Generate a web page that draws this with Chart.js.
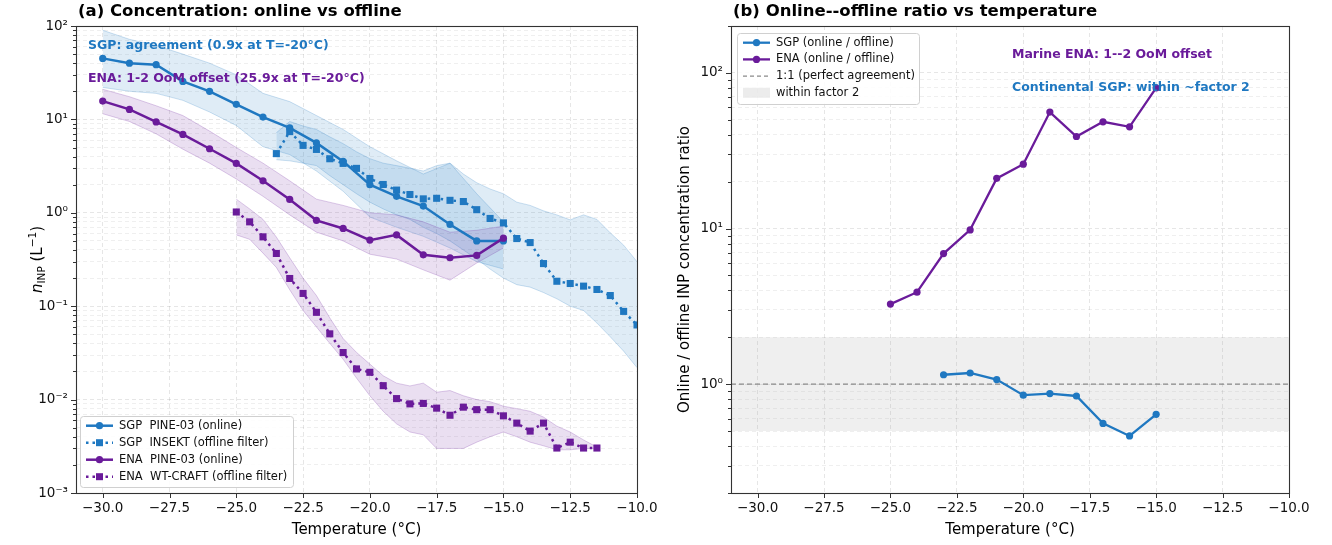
<!DOCTYPE html>
<html>
<head>
<meta charset="utf-8">
<script src="https://cdn.jsdelivr.net/npm/chart.js@4.4.1/dist/chart.umd.min.js"></script>
<style>
  html, body { margin: 0; padding: 0; background: #fff; }
  #wrap { position: relative; width: 1332px; height: 545px; }
  canvas { position: absolute; top: 0; }
  #chartA { left: 0; }
  #chartB { left: 660px; }
</style>
</head>
<body>
<div id="wrap">
  <canvas id="chartA" width="660" height="545" style="width:660px;height:545px"></canvas>
  <canvas id="chartB" width="672" height="545" style="width:672px;height:545px"></canvas>
</div>
<script>
// ---- data ----
const tempOnline = [-30, -29, -28, -27, -26, -25, -24, -23, -22, -21, -20, -19, -18, -17, -16, -15];
const sgpOnline   = [45, 40, 38.5, 25.5, 20, 14.5, 10.6, 8.1, 5.6, 3.55, 2.0, 1.5, 1.18, 0.75, 0.5, 0.5];
const sgpOnlineHi = [90, 72, 62, 50, 40, 30, 19, 15.5, 11, 7.8, 5.1, 3.6, 2.6, 3.4, 1.6, 0.8];
const sgpOnlineLo = [22, 20, 19, 16, 12, 8.6, 5.1, 4.2, 2.8, 1.7, 0.9, 0.7, 0.56, 0.42, 0.3, 0.25];
const enaOnline   = [15.7, 12.8, 9.4, 6.9, 4.85, 3.38, 2.2, 1.39, 0.83, 0.68, 0.51, 0.58, 0.355, 0.33, 0.35, 0.535];
const enaOnlineHi = [21, 17.5, 14, 11, 7.5, 5, 3.4, 2.2, 1.4, 1.2, 1.0, 0.95, 0.8, 0.62, 0.65, 0.72];
const enaOnlineLo = [11.5, 9.5, 7, 4.8, 3.4, 2.3, 1.5, 0.95, 0.62, 0.5, 0.36, 0.32, 0.245, 0.19, 0.29, 0.42];

const tempSgpOffline = [-23.5, -23, -22.5, -22, -21.5, -21, -20.5, -20, -19.5, -19, -18.5, -18, -17.5, -17,
                        -16.5, -16, -15.5, -15, -14.5, -14, -13.5, -13, -12.5, -12, -11.5, -11, -10.5, -10];
const sgpOffline   = [4.3, 7.4, 5.27, 4.77, 3.79, 3.38, 2.99, 2.33, 2.01, 1.75, 1.57, 1.41, 1.43, 1.36,
                      1.32, 1.08, 0.87, 0.78, 0.53, 0.48, 0.286, 0.185, 0.175, 0.164, 0.151, 0.13, 0.088, 0.063];
const sgpOfflineHi = [7.2, 9.5, 8.5, 7.8, 6.5, 5.5, 4.5, 3.8, 3.4, 3.2, 3.0, 2.8, 3.2, 3.4,
                      2.6, 2.1, 1.8, 1.6, 1.3, 1.2, 1.05, 0.95, 0.84, 0.95, 0.85, 0.61, 0.45, 0.3];
const sgpOfflineLo = [3.7, 3.6, 3.4, 3.2, 2.5, 2.0, 1.6, 1.3, 1.1, 0.95, 0.85, 0.7, 0.6, 0.5,
                      0.4, 0.32, 0.25, 0.2, 0.17, 0.16, 0.14, 0.12, 0.1, 0.09, 0.066, 0.047, 0.033, 0.022];

const tempEnaOffline = [-25, -24.5, -24, -23.5, -23, -22.5, -22, -21.5, -21, -20.5, -20, -19.5, -19, -18.5,
                        -18, -17.5, -17, -16.5, -16, -15.5, -15, -14.5, -14, -13.5, -13, -12.5, -12, -11.5];
const enaOffline   = [1.02, 0.80, 0.553, 0.367, 0.198, 0.137, 0.086, 0.0506, 0.0319, 0.0213, 0.0196, 0.0141, 0.01025, 0.009,
                      0.0091, 0.0081, 0.0068, 0.0083, 0.0078, 0.0078, 0.0067, 0.0056, 0.0046, 0.0056, 0.00303, 0.0035, 0.00303, 0.00303];
const enaOfflineHi = [1.4, 1.1, 0.85, 0.55, 0.33, 0.2, 0.13, 0.075, 0.045, 0.032, 0.024, 0.018, 0.015, 0.014,
                      0.015, 0.012, 0.0125, 0.011, 0.01, 0.0095, 0.0085, 0.008, 0.0075, 0.0065, 0.0052, 0.0045, 0.0037, 0.0031];
const enaOfflineLo = [0.58, 0.52, 0.37, 0.26, 0.15, 0.09, 0.06, 0.04, 0.027, 0.017, 0.011, 0.0075, 0.0055, 0.0045,
                      0.0042, 0.003, 0.003, 0.003, 0.0035, 0.004, 0.0045, 0.004, 0.0035, 0.0032, 0.0029, 0.0029, 0.003, 0.003];

const tempRatioSgp = [-23, -22, -21, -20, -19, -18, -17, -16, -15];
const sgpRatio     = [1.15, 1.18, 1.07, 0.85, 0.87, 0.84, 0.56, 0.465, 0.64];
const tempRatioEna = [-25, -24, -23, -22, -21, -20, -19, -18, -17, -16, -15];
const enaRatio     = [3.27, 3.9, 6.9, 9.8, 21, 25.9, 56, 39, 48.5, 45, 80];

const agreeLine = [1, 1];
const factorBand = [0.5, 2];

const xTicks = [-30, -27.5, -25, -22.5, -20, -17.5, -15, -12.5, -10];
const xRange = [-31, -10];
const concRange = [1e-3, 1e2];
const ratioRange = [0.2, 200];

// ---- styling ----
const FONT = "'DejaVu Sans', sans-serif";
const BLUE = '#1f78c1';
const PURPLE = '#6a1b9a';
const BLUE_FILL = 'rgba(31,120,193,0.14)';
const BLUE_EDGE = 'rgba(31,120,193,0.22)';
const PURPLE_FILL = 'rgba(106,27,154,0.14)';
const PURPLE_EDGE = 'rgba(106,27,154,0.22)';

Chart.defaults.font.family = FONT;
Chart.defaults.color = '#000';

const pts = (xs, ys) => xs.map((x, i) => ({ x: x, y: ys[i] }));

function isDecade(v) {
  const l = Math.log10(v);
  return Math.abs(l - Math.round(l)) < 1e-6;
}

function logTicks(min, max) {
  const out = [];
  for (let e = Math.floor(Math.log10(min)); e <= Math.ceil(Math.log10(max)); e++) {
    for (let m = 1; m < 10; m++) {
      const v = m * Math.pow(10, e);
      if (v >= min * 0.999 && v <= max * 1.001) out.push({ value: v });
    }
  }
  return out;
}

const SUP = { '-': '\u207b', '0': '\u2070', '1': '\u00b9', '2': '\u00b2', '3': '\u00b3', '4': '\u2074',
              '5': '\u2075', '6': '\u2076', '7': '\u2077', '8': '\u2078', '9': '\u2079' };
function powLabel(v) {
  if (!isDecade(v)) return '';
  const e = String(Math.round(Math.log10(v)));
  return '10' + e.split('').map(c => SUP[c]).join('');
}
const fmtTemp = v => (v < 0 ? '\u2212' : '') + Math.abs(v).toFixed(1);

function band(xs, hi, lo, fill, edge, order) {
  return [
    { data: pts(xs, hi), borderColor: edge, borderWidth: 1, backgroundColor: fill, fill: '+1',
      pointRadius: 0, tension: 0, order: order },
    { data: pts(xs, lo), borderColor: edge, borderWidth: 1, backgroundColor: fill, fill: false,
      pointRadius: 0, tension: 0, order: order }
  ];
}

function series(label, xs, ys, color, dotted, order, lw) {
  return {
    label: label, data: pts(xs, ys), borderColor: color, backgroundColor: color,
    borderWidth: lw || 2.5, borderDash: dotted ? [2.5, 4] : [], fill: false, tension: 0,
    pointStyle: dotted ? 'rect' : 'circle', pointRadius: dotted ? 5 : 3.6, pointBorderWidth: 0,
    order: order
  };
}

function xScale() {
  return {
    type: 'linear', min: xRange[0], max: xRange[1],
    afterBuildTicks: s => { s.ticks = xTicks.map(v => ({ value: v })); },
    afterFit: s => { s.height = 52; s.paddingLeft = 0; s.paddingRight = 0; },
    ticks: { callback: v => fmtTemp(v), font: { size: 13.5 }, padding: 7, maxRotation: 0, autoSkip: false, color: '#111' },
    grid: { color: 'rgba(0,0,0,0.11)', lineWidth: 0.9, drawTicks: false },
    border: { display: false, dash: [4, 3] }
  };
}

function yScale(range, width) {
  return {
    type: 'logarithmic', min: range[0], max: range[1],
    afterBuildTicks: s => { s.ticks = logTicks(range[0], range[1]); },
    afterFit: s => { s.width = width; s.paddingTop = 0; s.paddingBottom = 0; },
    ticks: { callback: v => powLabel(v), font: { size: 13.5 }, padding: 8, autoSkip: false, color: '#111' },
    grid: {
      color: c => (c.tick && isDecade(c.tick.value)) ? 'rgba(0,0,0,0.11)' : 'rgba(0,0,0,0.07)',
      lineWidth: 0.9, drawTicks: false
    },
    border: { display: false, dash: [4, 3] }
  };
}

// frame, tick marks, titles, notes, legend
const deco = {
  id: 'deco',
  afterDraw(chart, args, o) {
    const { ctx, chartArea: a, scales } = chart;
    ctx.save();
    // tick marks
    ctx.strokeStyle = '#333';
    ctx.lineWidth = 1;
    ctx.beginPath();
    scales.x.ticks.forEach(t => {
      const px = Math.round(scales.x.getPixelForValue(t.value)) + 0.5;
      ctx.moveTo(px, a.bottom); ctx.lineTo(px, a.bottom + 5);
    });
    scales.y.ticks.forEach(t => {
      const py = Math.round(scales.y.getPixelForValue(t.value)) + 0.5;
      const len = isDecade(t.value) ? 5 : 3;
      ctx.moveTo(a.left - len, py); ctx.lineTo(a.left, py);
    });
    ctx.stroke();
    // frame
    ctx.strokeStyle = '#333';
    ctx.lineWidth = 1.1;
    ctx.strokeRect(Math.round(a.left) + 0.5, Math.round(a.top) + 0.5,
                   Math.round(a.right - a.left), Math.round(a.bottom - a.top));

    // title
    ctx.fillStyle = '#000';
    ctx.font = `bold 16.5px ${FONT}`;
    ctx.textAlign = 'left';
    ctx.textBaseline = 'middle';
    ctx.fillText(o.title, a.left + 2, 12);

    // x title
    ctx.font = `15px ${FONT}`;
    ctx.textAlign = 'center';
    ctx.fillText(o.xTitle, (a.left + a.right) / 2, 530);

    // y title (segments, rotated)
    ctx.save();
    ctx.translate(o.yTitleX, (a.top + a.bottom) / 2 + (o.yTitleShift || 0));
    ctx.rotate(-Math.PI / 2);
    ctx.textAlign = 'left';
    ctx.textBaseline = 'alphabetic';
    let w = 0;
    o.yTitle.forEach(s => {
      ctx.font = `${s.italic ? 'italic ' : ''}${s.size}px ${FONT}`;
      s.w = ctx.measureText(s.t).width;
      w += s.w;
    });
    let cx = -w / 2;
    o.yTitle.forEach(s => {
      ctx.font = `${s.italic ? 'italic ' : ''}${s.size}px ${FONT}`;
      ctx.fillText(s.t, cx, s.dy || 0);
      cx += s.w;
    });
    ctx.restore();

    // notes
    ctx.textAlign = 'left';
    ctx.textBaseline = 'middle';
    o.notes.forEach(n => {
      ctx.font = `bold 12.5px ${FONT}`;
      ctx.fillStyle = n.color;
      ctx.fillText(n.text, n.x, n.y);
    });

    // legend
    const L = o.legend;
    ctx.beginPath();
    if (ctx.roundRect) ctx.roundRect(L.x + 0.5, L.y + 0.5, L.w, L.h, 3);
    else ctx.rect(L.x + 0.5, L.y + 0.5, L.w, L.h);
    ctx.fillStyle = 'rgba(255,255,255,0.85)';
    ctx.fill();
    ctx.strokeStyle = '#d0d0d0';
    ctx.lineWidth = 1;
    ctx.stroke();
    L.items.forEach((it, i) => {
      const cy = L.y + L.first + i * L.rowH;
      const hx0 = L.x + 6, hx1 = hx0 + 27;
      if (it.patch) {
        ctx.fillStyle = it.patch;
        ctx.fillRect(hx0, cy - 5, hx1 - hx0, 10);
      } else {
        ctx.strokeStyle = it.color;
        ctx.lineWidth = it.lw;
        ctx.setLineDash(it.dash || []);
        ctx.beginPath();
        ctx.moveTo(hx0, cy); ctx.lineTo(hx1, cy);
        ctx.stroke();
        ctx.setLineDash([]);
        ctx.fillStyle = it.color;
        const mx = (hx0 + hx1) / 2;
        if (it.marker === 'circle') {
          ctx.beginPath(); ctx.arc(mx, cy, 3.6, 0, Math.PI * 2); ctx.fill();
        } else if (it.marker === 'rect') {
          ctx.fillRect(mx - 3.5, cy - 3.5, 7, 7);
        }
      }
      ctx.fillStyle = '#111';
      ctx.font = `11.5px ${FONT}`;
      ctx.textAlign = 'left';
      ctx.textBaseline = 'middle';
      ctx.fillText(it.label, hx1 + 6, cy);
    });
    ctx.restore();
  }
};

const labelsA = ['SGP  PINE-03 (online)', 'SGP  INSEKT (offline filter)', 'ENA  PINE-03 (online)', 'ENA  WT-CRAFT (offline filter)'];
const labelsB = ['SGP (online / offline)', 'ENA (online / offline)', '1:1 (perfect agreement)', 'within factor 2'];

// ---- panel (a) ----
new Chart(document.getElementById('chartA'), {
  type: 'line',
  data: {
    datasets: [
      ...band(tempOnline, sgpOnlineHi, sgpOnlineLo, BLUE_FILL, BLUE_EDGE, 13),
      ...band(tempSgpOffline, sgpOfflineHi, sgpOfflineLo, BLUE_FILL, BLUE_EDGE, 12),
      ...band(tempOnline, enaOnlineHi, enaOnlineLo, PURPLE_FILL, PURPLE_EDGE, 11),
      ...band(tempEnaOffline, enaOfflineHi, enaOfflineLo, PURPLE_FILL, PURPLE_EDGE, 10),
      series(labelsA[0], tempOnline, sgpOnline, BLUE, false, 4),
      series(labelsA[1], tempSgpOffline, sgpOffline, BLUE, true, 3),
      series(labelsA[2], tempOnline, enaOnline, PURPLE, false, 2),
      series(labelsA[3], tempEnaOffline, enaOffline, PURPLE, true, 1)
    ]
  },
  options: {
    responsive: false,
    animation: false,
    layout: { padding: { top: 26, right: 23, left: 0, bottom: 0 } },
    scales: { x: xScale(), y: yScale(concRange, 76) },
    plugins: {
      legend: { display: false },
      tooltip: { enabled: false },
      deco: {
        title: '(a) Concentration: online vs offline',
        xTitle: 'Temperature (\u00b0C)',
        yTitleX: 42,
        yTitle: [
          { t: 'n', size: 15, italic: true },
          { t: 'INP', size: 10.5, dy: 3 },
          { t: ' (L', size: 15 },
          { t: '\u22121', size: 10.5, dy: -6 },
          { t: ')', size: 15 }
        ],
        notes: [
          { text: 'SGP: agreement (0.9x at T=-20\u00b0C)', color: BLUE, x: 88, y: 46 },
          { text: 'ENA: 1-2 OoM offset (25.9x at T=-20\u00b0C)', color: PURPLE, x: 88, y: 79 }
        ],
        legend: {
          x: 80, y: 416, w: 213, h: 71, first: 9.7, rowH: 17,
          items: [
            { label: labelsA[0], color: BLUE, lw: 2.5, marker: 'circle' },
            { label: labelsA[1], color: BLUE, lw: 2.5, dash: [2.5, 4], marker: 'rect' },
            { label: labelsA[2], color: PURPLE, lw: 2.5, marker: 'circle' },
            { label: labelsA[3], color: PURPLE, lw: 2.5, dash: [2.5, 4], marker: 'rect' }
          ]
        }
      }
    }
  },
  plugins: [deco]
});

// ---- panel (b) ----
new Chart(document.getElementById('chartB'), {
  type: 'line',
  data: {
    datasets: [
      series(labelsB[0], tempRatioSgp, sgpRatio, BLUE, false, 2, 2.3),
      series(labelsB[1], tempRatioEna, enaRatio, PURPLE, false, 1, 2.3),
      { label: labelsB[2], data: pts(xRange, agreeLine), borderColor: '#8a8a8a', borderWidth: 1.3,
        borderDash: [5, 3], pointRadius: 0, fill: false, order: 5 },
      { data: pts(xRange, [factorBand[1], factorBand[1]]), borderWidth: 0, pointRadius: 0,
        backgroundColor: 'rgba(128,128,128,0.13)', fill: '+1', order: 6 },
      { data: pts(xRange, [factorBand[0], factorBand[0]]), borderWidth: 0, pointRadius: 0, fill: false, order: 6 }
    ]
  },
  options: {
    responsive: false,
    animation: false,
    layout: { padding: { top: 26, right: 43, left: 0, bottom: 0 } },
    scales: { x: xScale(), y: yScale(ratioRange, 71) },
    plugins: {
      legend: { display: false },
      tooltip: { enabled: false },
      deco: {
        title: '(b) Online--offline ratio vs temperature',
        xTitle: 'Temperature (\u00b0C)',
        yTitleX: 29,
        yTitleShift: 10,
        yTitle: [{ t: 'Online / offline INP concentration ratio', size: 15 }],
        notes: [
          { text: 'Marine ENA: 1--2 OoM offset', color: PURPLE, x: 352, y: 55 },
          { text: 'Continental SGP: within ~factor 2', color: BLUE, x: 352, y: 88 }
        ],
        legend: {
          x: 77, y: 33, w: 182, h: 71, first: 9.7, rowH: 16.7,
          items: [
            { label: labelsB[0], color: BLUE, lw: 2.3, marker: 'circle' },
            { label: labelsB[1], color: PURPLE, lw: 2.3, marker: 'circle' },
            { label: labelsB[2], color: '#8a8a8a', lw: 1.3, dash: [4, 3] },
            { label: labelsB[3], patch: 'rgba(128,128,128,0.15)' }
          ]
        }
      }
    }
  },
  plugins: [deco]
});
</script>
</body>
</html>
